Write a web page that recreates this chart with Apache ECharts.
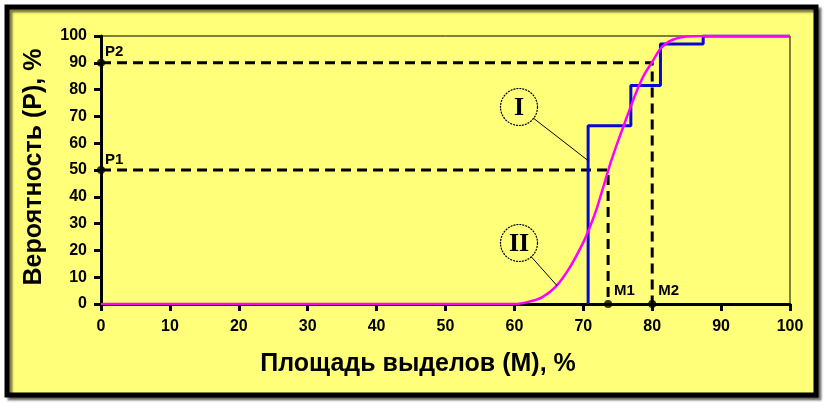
<!DOCTYPE html>
<html><head><meta charset="utf-8">
<script src="https://cdn.jsdelivr.net/npm/echarts@6/dist/echarts.min.js"></script>
<style>html,body{margin:0;padding:0;background:#fff}#c{width:826px;height:403px}</style>
</head><body><div id="c"></div>
<script>
// ---- data ----
const xTicks = [0,10,20,30,40,50,60,70,80,90,100];
const yTicks = [0,10,20,30,40,50,60,70,80,90,100];
// empirical step distribution (I)
const stepX = [70.7, 70.7, 76.9, 76.9, 81.2, 81.2, 87.4, 87.4, 100];
const stepY = [0,    66.5, 66.5, 81.5, 81.5, 97,   97,   100,  100];
// smooth distribution (II)
const curveX = [0, 60, 62, 64, 66, 68, 70, 71, 72, 73, 74, 75, 76, 77, 78, 79, 80, 81, 82, 83, 84, 85, 87, 100];
const curveY = [0, 0, 0.8, 2.5, 6.5, 13.5, 23, 29, 36, 44.5, 53, 60.5, 67.5, 74.5, 81, 86.3, 90.3, 94.6, 97.2, 98.6, 99.4, 99.8, 100, 100];
// reference levels
const pLevels = [50, 90];
const mValues = [73.6, 80];
const pNames = ['P1', 'P2'];
const mNames = ['M1', 'M2'];

const chart = echarts.init(document.getElementById('c'));
const zip = (a, b) => a.map((v, i) => [v, b[i]]);

const dashSeries = pLevels.map((p, i) => ({
  type: 'line', data: [[0, p], [mValues[i], p], [mValues[i], 0]],
  symbol: 'none', z: 3,
  lineStyle: { color: '#000', width: 3, type: [10, 6] }
}));

const pointData = [];
pLevels.forEach(p => pointData.push([0, p]));
mValues.forEach(m => pointData.push([m, 0]));

chart.setOption({
  backgroundColor: '#ffffff',
  animation: false,
  grid: { left: 101, right: 36, top: 36, bottom: 99, show: true, borderColor: '#000', borderWidth: 1, backgroundColor: 'transparent' },
  xAxis: {
    type: 'value', min: 0, max: 100, interval: 10,
    axisLine: { show: true, onZero: false, lineStyle: { color: '#000', width: 3 } },
    axisTick: { show: true, length: 7, lineStyle: { color: '#000', width: 3 } },
    axisLabel: { margin: 15, color: '#000', fontSize: 16, fontWeight: 'bold', fontFamily: 'Liberation Sans, Arial', formatter: v => xTicks.includes(v) ? String(v) : '' },
    splitLine: { show: false }
  },
  yAxis: {
    type: 'value', min: 0, max: 100, interval: 10,
    axisLine: { show: true, onZero: false, lineStyle: { color: '#000', width: 3 } },
    axisTick: { show: true, length: 7, lineStyle: { color: '#000', width: 3 } },
    axisLabel: { margin: 14, color: '#000', fontSize: 16, fontWeight: 'bold', fontFamily: 'Liberation Sans, Arial', formatter: v => yTicks.includes(v) ? String(v) : '' },
    splitLine: { show: false }
  },
  series: [
    ...dashSeries,
    { type: 'line', data: zip(stepX, stepY), symbol: 'none', z: 4,
      lineStyle: { color: '#0808D0', width: 3 } },
    { type: 'line', data: zip(curveX, curveY), smooth: 0.25, symbol: 'none', z: 5,
      lineStyle: { color: '#FF00FF', width: 2.5 } },
    { type: 'scatter', data: pointData, symbol: 'circle', symbolSize: 8, z: 6,
      itemStyle: { color: '#000' } }
  ]
});

function drawGraphics() {
  const leaderI = chart.convertToPixel({ gridIndex: 0 }, [70.7, 53.5]);
  const leaderII = chart.convertToPixel({ gridIndex: 0 }, [66.2, 6.8]);
  const cI = [519, 107], cII = [519, 243], r = 18.5;
  const edge = (c, t) => { const dx = t[0]-c[0], dy = t[1]-c[1], d = Math.hypot(dx, dy); return [c[0]+dx/d*r, c[1]+dy/d*r]; };
  const eI = edge(cI, leaderI), eII = edge(cII, leaderII);
  const ptFont = 'bold 15px "Liberation Sans", Arial, sans-serif';
  const ptLabels = [];
  pLevels.forEach((p, i) => {
    const px = chart.convertToPixel({ gridIndex: 0 }, [0, p]);
    ptLabels.push({ type: 'text', z: 12, x: px[0] + 4, y: px[1] - 3, style: { text: pNames[i], fill: '#000', font: ptFont, textAlign: 'left', textVerticalAlign: 'bottom' } });
  });
  mValues.forEach((m, i) => {
    const px = chart.convertToPixel({ gridIndex: 0 }, [m, 0]);
    ptLabels.push({ type: 'text', z: 12, x: px[0] + 6, y: px[1] - 6, style: { text: mNames[i], fill: '#000', font: ptFont, textAlign: 'left', textVerticalAlign: 'bottom' } });
  });
  chart.setOption({
    graphic: [
      { type: 'rect', z: -10, silent: true, shape: { x: 7, y: 7, width: 809, height: 388 },
        style: { fill: '#FFFF7A', stroke: '#000', lineWidth: 5, shadowColor: 'rgba(0,0,0,0.5)', shadowOffsetX: 3, shadowOffsetY: 3, shadowBlur: 2 } },
      { type: 'line', z: 10, shape: { x1: eI[0], y1: eI[1], x2: leaderI[0], y2: leaderI[1] }, style: { stroke: '#000', lineWidth: 1 } },
      { type: 'line', z: 10, shape: { x1: eII[0], y1: eII[1], x2: leaderII[0], y2: leaderII[1] }, style: { stroke: '#000', lineWidth: 1 } },
      { type: 'circle', z: 10, shape: { cx: cI[0], cy: cI[1], r: r }, style: { fill: 'transparent', stroke: '#000', lineWidth: 1.2, lineDash: [2, 1] } },
      { type: 'circle', z: 10, shape: { cx: cII[0], cy: cII[1], r: r }, style: { fill: 'transparent', stroke: '#000', lineWidth: 1.2, lineDash: [2, 1] } },
      { type: 'text', z: 10, x: cI[0], y: cI[1] + 1, style: { text: 'I', fill: '#000', font: 'bold 26px "Liberation Serif", "DejaVu Serif", serif', textAlign: 'center', textVerticalAlign: 'middle' } },
      { type: 'text', z: 10, x: cII[0], y: cII[1] + 1, style: { text: 'II', fill: '#000', font: 'bold 26px "Liberation Serif", "DejaVu Serif", serif', textAlign: 'center', textVerticalAlign: 'middle' } },
      { type: 'text', z: 10, x: 418, y: 364, style: { text: 'Площадь выделов (М), %', fill: '#000', font: 'bold 25px "Liberation Sans", Arial, sans-serif', textAlign: 'center', textVerticalAlign: 'middle' } },
      { type: 'text', z: 10, x: 34, y: 167, rotation: Math.PI / 2, style: { text: 'Вероятность (P), %', fill: '#000', font: 'bold 25px "Liberation Sans", Arial, sans-serif', textAlign: 'center', textVerticalAlign: 'middle' } },
      ...ptLabels
    ]
  });
}
drawGraphics();
</script>
</body></html>
